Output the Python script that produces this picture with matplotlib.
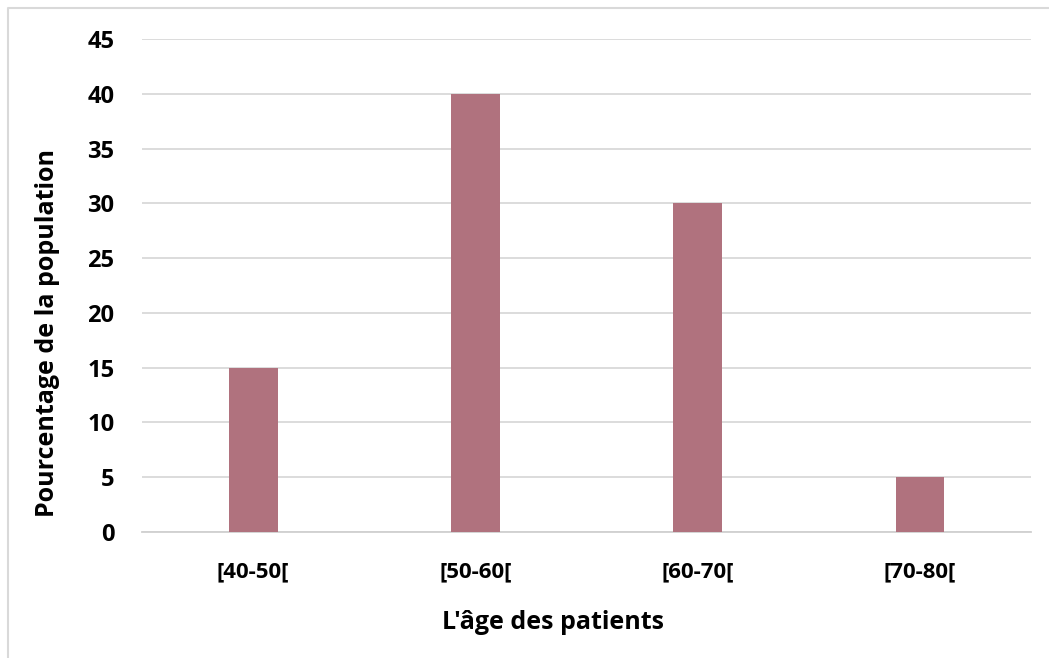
import matplotlib.pyplot as plt
from matplotlib.lines import Line2D

age_groups = ['[40-50[', '[50-60[', '[60-70[', '[70-80[']
percentages = [15, 40, 30, 5]
y_ticks = [0, 5, 10, 15, 20, 25, 30, 35, 40, 45]

plt.rcParams['font.family'] = ['Open Sans', 'DejaVu Sans']
plt.rcParams['font.weight'] = 'bold'

fig = plt.figure(figsize=(10.49, 6.58), dpi=100)
ax = fig.add_axes([0.1354, 0.1915, 0.8476, 0.7492])

x = range(len(age_groups))
ax.bar(x, percentages, width=0.22, color='#B0727E', zorder=3)

ax.set_xlim(-0.5, len(age_groups) - 0.5)
ax.set_ylim(0, 45)
ax.set_yticks(y_ticks)
ax.set_xticks(list(x))
ax.set_xticklabels(age_groups)

ax.grid(axis='y', color='#D9D9D9', linewidth=1.3, zorder=0)
for side in ['top', 'right', 'left']:
    ax.spines[side].set_visible(False)
ax.spines['bottom'].set_color('#D0D0D0')
ax.spines['bottom'].set_linewidth(1.3)
ax.tick_params(length=0)
ax.tick_params(axis='y', labelsize=17, pad=20)
ax.tick_params(axis='x', labelsize=16, pad=21)
for lbl in ax.get_xticklabels() + ax.get_yticklabels():
    lbl.set_fontweight('bold')

ax.set_xlabel("L'âge des patients", fontsize=18, fontweight='bold')
ax.set_ylabel('Pourcentage de la population', fontsize=18, fontweight='bold')
ax.xaxis.set_label_coords(0.462, -0.158)
ax.yaxis.set_label_coords(-0.092, 0.404)

# light frame along the top and left of the chart area
w, h = 1049, 658
fig.lines.append(Line2D([8 / w, 8 / w, 1], [0, 1 - 8 / h, 1 - 8 / h],
                        transform=fig.transFigure, color='#D9D9D9', linewidth=1.5))

fig.savefig('out.png', dpi=100)
